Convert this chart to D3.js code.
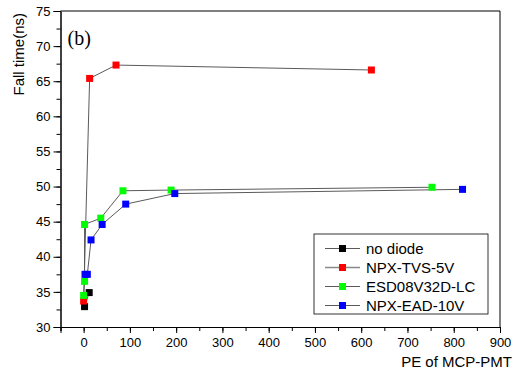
<!DOCTYPE html>
<html>
<head>
<meta charset="utf-8">
<script src="https://cdn.jsdelivr.net/npm/d3@7"></script>
<style>
  body { margin: 0; background: #fff; }
  svg { display: block; font-family: "Liberation Sans", Arial, sans-serif; }
  .axis path, .axis line { stroke: #000; }
</style>
</head>
<body>
<svg width="516" height="373"></svg>
<script>
// series names, in legend order
const seriesNames = ["no diode", "NPX-TVS-5V", "ESD08V32D-LC", "NPX-EAD-10V"];
const seriesColors = ["#000000", "#ff0000", "#00ff00", "#0000ff"];

// x = PE of MCP-PMT, y = fall time (ns)
const noDiodeX = [2, 12];
const noDiodeY = [32.9, 34.9];
const tvsX = [0, 13, 70, 622];
const tvsY = [33.7, 65.4, 67.3, 66.6];
const esdX = [0, 2, 2, 37, 85, 189, 753];
const esdY = [34.5, 36.5, 44.6, 45.5, 49.4, 49.5, 49.9];
const eadX = [3, 8, 16, 40, 91, 197, 819];
const eadY = [37.5, 37.5, 42.4, 44.6, 47.5, 49.0, 49.6];

const xTicks = [0, 100, 200, 300, 400, 500, 600, 700, 800, 900];
const yTicks = [30, 35, 40, 45, 50, 55, 60, 65, 70, 75];

const allX = [noDiodeX, tvsX, esdX, eadX];
const allY = [noDiodeY, tvsY, esdY, eadY];

const svg = d3.select("svg"),
    margin = {top: 11, right: 16, bottom: 46, left: 60.5},
    width = 516 - margin.left - margin.right,
    height = 373 - margin.top - margin.bottom,
    g = svg.append("g").attr("transform", "translate(" + margin.left + "," + margin.top + ")");

const x = d3.scaleLinear().domain([-50, 900]).range([0, width]);
const y = d3.scaleLinear().domain([30, 75]).range([height, 0]);

// minor ticks first, then major ones with labels
g.append("g")
    .attr("class", "axis")
    .attr("transform", "translate(0," + height + ")")
    .call(d3.axisBottom(x).tickValues(d3.range(-50, 901, 50)).tickSize(4).tickFormat(""));
g.append("g")
    .attr("class", "axis")
    .attr("transform", "translate(0," + height + ")")
    .call(d3.axisBottom(x).tickValues(xTicks).tickSize(6).tickPadding(5))
    .call(a => a.selectAll("text").attr("font-size", 13).attr("font-family", "Liberation Sans, Arial, sans-serif").attr("fill", "#000"));

g.append("g")
    .attr("class", "axis")
    .call(d3.axisLeft(y).tickValues(d3.range(30, 75.1, 2.5)).tickSize(4).tickFormat(""));
g.append("g")
    .attr("class", "axis")
    .call(d3.axisLeft(y).tickValues(yTicks).tickSize(7).tickPadding(3))
    .call(a => a.selectAll("text").attr("font-size", 13).attr("font-family", "Liberation Sans, Arial, sans-serif").attr("fill", "#000"));

// top and right frame
g.append("line").attr("x1", 0).attr("x2", width).attr("y1", 0).attr("y2", 0).attr("stroke", "#000");
g.append("line").attr("x1", width).attr("x2", width).attr("y1", 0).attr("y2", height).attr("stroke", "#000");

// series
const line = d3.line().x(d => x(d[0])).y(d => y(d[1]));
allX.forEach((xs, i) => {
    const pts = xs.map((v, j) => [v, allY[i][j]]);
    g.append("path")
        .datum(pts)
        .attr("d", line)
        .attr("fill", "none")
        .attr("stroke", "#5a5a5a")
        .attr("stroke-width", 1);
});
allX.forEach((xs, i) => {
    const pts = xs.map((v, j) => [v, allY[i][j]]);
    g.selectAll(null)
        .data(pts)
        .enter().append("rect")
        .attr("x", d => x(d[0]) - 3.5)
        .attr("y", d => y(d[1]) - 3.5)
        .attr("width", 7)
        .attr("height", 7)
        .attr("fill", seriesColors[i]);
});

// panel tag
g.append("text")
    .attr("x", 7)
    .attr("y", 34)
    .attr("font-family", "Liberation Serif, Times New Roman, serif")
    .attr("font-size", 20)
    .text("(b)");

// legend
const legend = svg.append("g").attr("transform", "translate(314,234)");
legend.append("rect")
    .attr("width", 174)
    .attr("height", 80)
    .attr("fill", "#fff")
    .attr("stroke", "#000")
    .attr("stroke-width", 0.8);
seriesNames.forEach((name, i) => {
    const ly = 14.5 + i * 19;
    legend.append("line")
        .attr("x1", 11).attr("x2", 46)
        .attr("y1", ly).attr("y2", ly)
        .attr("stroke", i === 1 ? "#8a8a8a" : "#5a5a5a")
        .attr("stroke-width", i === 1 ? 1.5 : 1);
    legend.append("rect")
        .attr("x", 25).attr("y", ly - 3.5)
        .attr("width", 7).attr("height", 7)
        .attr("fill", seriesColors[i]);
    legend.append("text")
        .attr("x", 52)
        .attr("y", ly + 5.5)
        .attr("font-size", 15)
        .text(name);
});

// axis titles
svg.append("text")
    .attr("x", 512)
    .attr("y", 367)
    .attr("text-anchor", "end")
    .attr("font-size", 15)
    .text("PE of MCP-PMT");

svg.append("text")
    .attr("transform", "translate(24,13) rotate(-90)")
    .attr("text-anchor", "end")
    .attr("font-size", 15)
    .text("Fall time(ns)");
</script>
</body>
</html>
